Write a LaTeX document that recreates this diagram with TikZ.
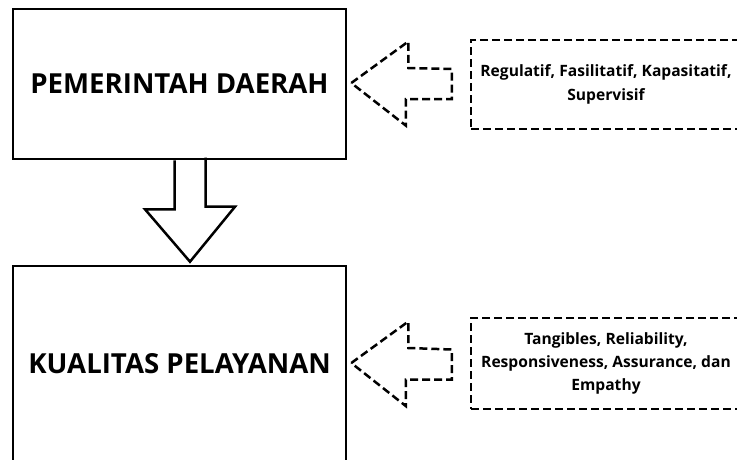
\documentclass[tikz,border=0pt]{standalone}
\usepackage{fontspec}
\setmainfont{Open Sans}
\usetikzlibrary{calc}
\begin{document}
\begin{tikzpicture}[x=1pt, y=-1pt]
    \tikzstyle{kotak} = [shape=rectangle, draw=black, line width=2.6pt, inner sep=0pt, font=\fontsize{27.6}{32}\selectfont\bfseries]
    \tikzstyle{faktor} = [shape=rectangle, draw=black, line width=2.5pt, dash pattern=on 8pt off 4pt, align=center, minimum width=270pt, font=\fontsize{15.6}{23.4}\selectfont\bfseries]
    \tikzstyle{panah} = [draw=black, line width=2.5pt, line join=miter]
    \tikzstyle{panahputus} = [panah, dash pattern=on 8pt off 4pt]
    \useasboundingbox (0,0) rectangle (737,459);
    \clip (0,0) rectangle (737,459);
    \node (pemda) [kotak, minimum width=333pt, minimum height=150pt] at (179.5,84)  {PEMERINTAH DAERAH};
    \node (kual)  [kotak, minimum width=333pt, minimum height=196pt] at (179.5,364) {KUALITAS PELAYANAN};
    \node (f1) [faktor, minimum height=89pt] at (606,84.5)  {Regulatif, Fasilitatif, Kapasitatif,\\Supervisif};
    \node (f2) [faktor, minimum height=91pt] at (606,363.5) {Tangibles, Reliability,\\Responsiveness, Assurance, dan\\Empathy};

    % panah blok dari pemerintah daerah ke kualitas pelayanan
    \draw [panah] ($(pemda.south)+(-5,0)$) -- ++(0,49) -- ++(-29.5,0) -- ($(kual.north)+(10.5,-3)$)
        -- ++(45,-55) -- ++(-29.5,0) -- ++(0,-49);
    % panah putus-putus dari faktor ke kotak
    \draw [panahputus] ($(pemda.east)+(4,-1)$) -- ++(57,-41.5) -- ++(0,26.5) -- ($(f1.west)+(-18,-15.5)$)
        -- ++(0,30) -- ++(-46,0) -- ++(0,26.5) -- cycle;
    \draw [panahputus] ($(kual.east)+(4,-1)$) -- ++(57,-41.5) -- ++(0,26.5) -- ($(f2.west)+(-18,-14)$)
        -- ++(0,30) -- ++(-46,0) -- ++(0,26.5) -- cycle;
\end{tikzpicture}
\end{document}
